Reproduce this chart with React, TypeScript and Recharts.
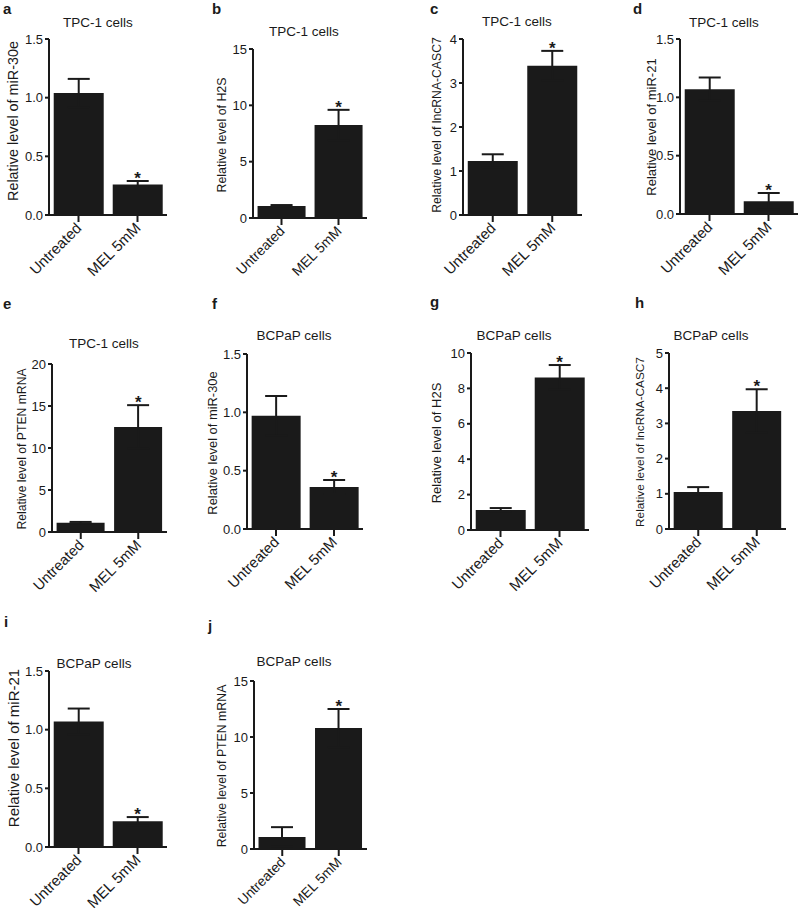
import React from "react"
import { BarChart, Bar, XAxis, YAxis, ErrorBar, ReferenceDot } from "recharts"

// treatment groups on every x axis
const groups = ["Untreated", "MEL 5mM"]

// TPC-1 cells (mean, SEM)
const tpcMiR30e = [1.04, 0.26]
const tpcMiR30eSem = [0.12, 0.03]
const tpcH2S = [1.07, 8.25]
const tpcH2SSem = [0.08, 1.35]
const tpcCasc7 = [1.23, 3.39]
const tpcCasc7Sem = [0.15, 0.34]
const tpcMiR21 = [1.07, 0.11]
const tpcMiR21Sem = [0.1, 0.07]
const tpcPten = [1.1, 12.5]
const tpcPtenSem = [0.1, 2.6]

// BCPaP cells (mean, SEM)
const bcpMiR30e = [0.97, 0.36]
const bcpMiR30eSem = [0.17, 0.06]
const bcpH2S = [1.13, 8.62]
const bcpH2SSem = [0.11, 0.7]
const bcpCasc7 = [1.05, 3.35]
const bcpCasc7Sem = [0.14, 0.62]
const bcpMiR21 = [1.07, 0.22]
const bcpMiR21Sem = [0.11, 0.035]
const bcpPten = [1.07, 10.8]
const bcpPtenSem = [0.88, 1.7]

// y axis ticks
const ticksFrac = [0, 0.5, 1.0, 1.5]
const ticks15 = [0, 5, 10, 15]
const ticks20 = [0, 5, 10, 15, 20]
const ticks4 = [0, 1, 2, 3, 4]
const ticks5 = [0, 1, 2, 3, 4, 5]
const ticks10 = [0, 2, 4, 6, 8, 10]

const FONT = "'Liberation Sans', Arial, Helvetica, sans-serif"
const INK = "#1a1a1a"

type Panel = {
    letter: string
    title: string
    yLabel: string
    means: number[]
    sems: number[]
    ticks: number[]
    decimals: number
    axisX: number
    right: number
    yTop: number
    yZero: number
    titleX: number
    titleY: number
    letterX: number
    letterY: number
    labelX: number
    labelY: number
    labelSize: number
    xTickSize: number
}

const panels: Panel[] = [
    { letter: "a", title: "TPC-1 cells", yLabel: "Relative level of miR-30e", means: tpcMiR30e, sems: tpcMiR30eSem, ticks: ticksFrac, decimals: 1,
      axisX: 49, right: 167, yTop: 39, yZero: 215, titleX: 98, titleY: 27, letterX: 3, letterY: 14, labelX: 13, labelY: 121, labelSize: 14.4, xTickSize: 15 },
    { letter: "b", title: "TPC-1 cells", yLabel: "Relative level of H2S", means: tpcH2S, sems: tpcH2SSem, ticks: ticks15, decimals: 0,
      axisX: 253, right: 367, yTop: 49, yZero: 218, titleX: 304, titleY: 36, letterX: 212, letterY: 14, labelX: 222, labelY: 135, labelSize: 12.4, xTickSize: 14 },
    { letter: "c", title: "TPC-1 cells", yLabel: "Relative level of lncRNA-CASC7", means: tpcCasc7, sems: tpcCasc7Sem, ticks: ticks4, decimals: 0,
      axisX: 463, right: 582, yTop: 39, yZero: 215, titleX: 517, titleY: 26, letterX: 430, letterY: 14, labelX: 437, labelY: 125, labelSize: 12.2, xTickSize: 15 },
    { letter: "d", title: "TPC-1 cells", yLabel: "Relative level of miR-21", means: tpcMiR21, sems: tpcMiR21Sem, ticks: ticksFrac, decimals: 1,
      axisX: 680, right: 798, yTop: 39, yZero: 214, titleX: 724, titleY: 27, letterX: 633, letterY: 14, labelX: 651, labelY: 127, labelSize: 13, xTickSize: 15 },
    { letter: "e", title: "TPC-1 cells", yLabel: "Relative level of PTEN mRNA", means: tpcPten, sems: tpcPtenSem, ticks: ticks20, decimals: 0,
      axisX: 52, right: 167, yTop: 364, yZero: 532, titleX: 104, titleY: 348, letterX: 3, letterY: 309, labelX: 22, labelY: 449, labelSize: 12.2, xTickSize: 14.7 },
    { letter: "f", title: "BCPaP cells", yLabel: "Relative level of miR-30e", means: bcpMiR30e, sems: bcpMiR30eSem, ticks: ticksFrac, decimals: 1,
      axisX: 247, right: 363, yTop: 354, yZero: 529, titleX: 294, titleY: 340, letterX: 212, letterY: 309, labelX: 212, labelY: 443, labelSize: 12.9, xTickSize: 14.8 },
    { letter: "g", title: "BCPaP cells", yLabel: "Relative level of H2S", means: bcpH2S, sems: bcpH2SSem, ticks: ticks10, decimals: 0,
      axisX: 471, right: 589, yTop: 353, yZero: 530, titleX: 514, titleY: 340, letterX: 430, letterY: 307, labelX: 436, labelY: 443, labelSize: 13, xTickSize: 15 },
    { letter: "h", title: "BCPaP cells", yLabel: "Relative level of lncRNA-CASC7", means: bcpCasc7, sems: bcpCasc7Sem, ticks: ticks5, decimals: 0,
      axisX: 669, right: 786, yTop: 353, yZero: 529, titleX: 711, titleY: 340, letterX: 635, letterY: 308, labelX: 640, labelY: 442, labelSize: 11.8, xTickSize: 15 },
    { letter: "i", title: "BCPaP cells", yLabel: "Relative level of miR-21", means: bcpMiR21, sems: bcpMiR21Sem, ticks: ticksFrac, decimals: 1,
      axisX: 49, right: 167, yTop: 671, yZero: 847, titleX: 94, titleY: 668, letterX: 4, letterY: 627, labelX: 13, labelY: 748, labelSize: 15, xTickSize: 15 },
    { letter: "j", title: "BCPaP cells", yLabel: "Relative level of PTEN mRNA", means: bcpPten, sems: bcpPtenSem, ticks: ticks15, decimals: 0,
      axisX: 254, right: 367, yTop: 681, yZero: 849, titleX: 294, titleY: 666, letterX: 208, letterY: 631, labelX: 222, labelY: 766, labelSize: 12.3, xTickSize: 13.8 },
]

const XTick = (props: any) => {
    const { x, y, payload, size } = props
    return (
        <text
            transform={`translate(${x + 4}, ${y + 5}) rotate(-45)`}
            textAnchor="end"
            fontSize={size}
            fontFamily={FONT}
            fill={INK}
        >
            {payload.value}
        </text>
    )
}

const YAXIS_W = 45
const PAGE_H = 911

function PanelChart({ p }: { p: Panel }) {
    const rows = groups.map((g, i) => ({ group: g, mean: p.means[i], sem: p.sems[i] }))
    const x0 = p.axisX - YAXIS_W
    const top = p.yTop - 10
    const width = p.right - x0 + 2
    const height = Math.min(p.yZero - top + 75, PAGE_H - top)
    const xAxisH = height - (p.yZero - top)
    const max = p.ticks[p.ticks.length - 1]
    const starY = p.means[1] + p.sems[1]

    return (
        <div style={{ position: "absolute", left: x0, top, width, height }}>
            <BarChart
                width={width}
                height={height}
                data={rows}
                margin={{ top: 10, right: 2, bottom: 0, left: 0 }}
                barCategoryGap="8%"
            >
                <XAxis
                    dataKey="group"
                    height={xAxisH}
                    interval={0}
                    tickSize={7}
                    axisLine={{ stroke: INK, strokeWidth: 2 }}
                    tickLine={{ stroke: INK, strokeWidth: 2 }}
                    tick={(tp: any) => <XTick {...tp} size={p.xTickSize} />}
                />
                <YAxis
                    width={YAXIS_W}
                    type="number"
                    domain={[0, max]}
                    ticks={p.ticks}
                    allowDataOverflow
                    tickSize={4}
                    tickMargin={2}
                    tickFormatter={(v: number) => v.toFixed(p.decimals)}
                    tick={{ fontSize: 13, fill: INK, fontFamily: FONT }}
                    axisLine={{ stroke: INK, strokeWidth: 2 }}
                    tickLine={{ stroke: INK, strokeWidth: 2 }}
                    label={{
                        position: "center",
                        content: () => (
                            <text
                                transform={`translate(${p.labelX - x0}, ${p.labelY - top}) rotate(-90)`}
                                textAnchor="middle"
                                dominantBaseline="central"
                                fontSize={p.labelSize}
                                fontFamily={FONT}
                                fill={INK}
                            >
                                {p.yLabel}
                            </text>
                        ),
                    }}
                />
                <Bar dataKey="mean" fill={INK} isAnimationActive={false}>
                    <ErrorBar dataKey="sem" direction="y" width={11} strokeWidth={2} stroke={INK} isAnimationActive={false} />
                </Bar>
                <ReferenceDot
                    x={groups[1]}
                    y={starY}
                    r={0}
                    fill="none"
                    stroke="none"
                    label={{ value: "*", position: "top", offset: -3, fontSize: 17, fontWeight: "bold", fill: INK, fontFamily: FONT }}
                />
            </BarChart>
        </div>
    )
}

export default function App() {
    return (
        <div style={{ position: "absolute", left: 0, top: 0, width: 800, height: PAGE_H, overflow: "hidden", background: "#fff" }}>
            {panels.map((p) => (
                <PanelChart key={p.letter} p={p} />
            ))}
            <svg width={800} height={PAGE_H} style={{ position: "absolute", left: 0, top: 0, pointerEvents: "none" }}>
                {panels.map((p) => (
                    <g key={p.letter} fontFamily={FONT} fill={INK}>
                        <text x={p.letterX} y={p.letterY} fontSize={15} fontWeight="bold">{p.letter}</text>
                        <text x={p.titleX} y={p.titleY} fontSize={13.5} fontWeight="normal" textAnchor="middle">{p.title}</text>
                    </g>
                ))}
            </svg>
        </div>
    )
}
